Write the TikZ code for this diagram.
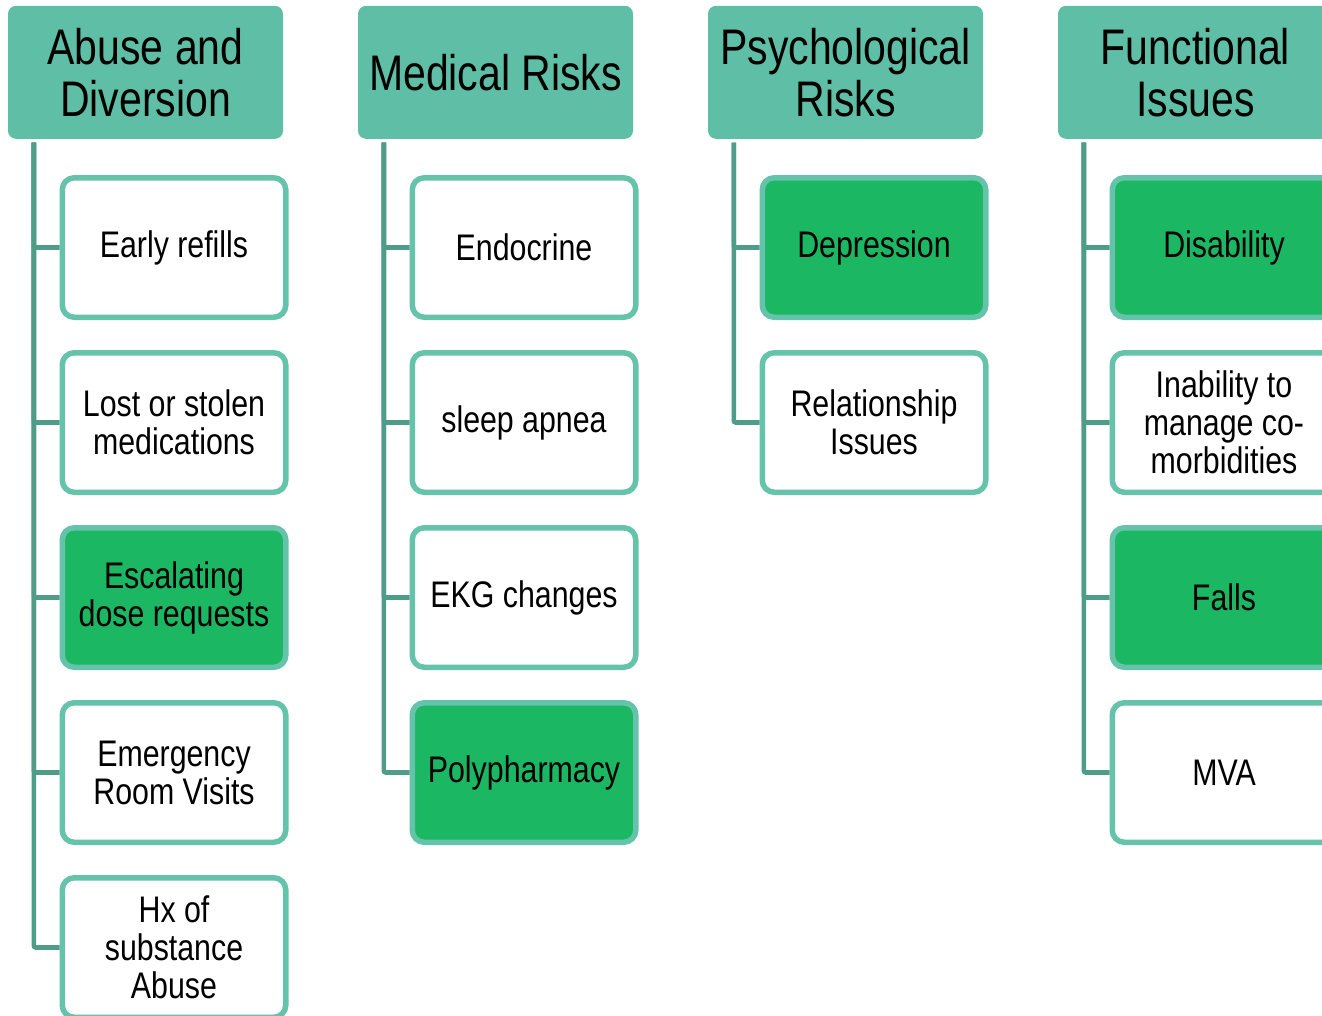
\documentclass[tikz,border=0pt]{standalone}
\usepackage{fontspec}
\setmainfont[FakeStretch=0.82]{Liberation Sans}
\definecolor{headfill}{HTML}{5EBFA6}
\definecolor{spine}{HTML}{4F9C88}
\definecolor{boxline}{HTML}{64C3AA}
\definecolor{hilite}{HTML}{1BB763}
\newcommand\headtype{\fontsize{50}{52}\selectfont\spaceskip 11.4pt plus 3pt minus 2pt\relax}
\newcommand\itemtype{\fontsize{37}{38}\selectfont\spaceskip 8.4pt plus 2pt minus 1.5pt\relax}
\tikzset{
  header/.style={rectangle, rounded corners=8pt, fill=headfill, inner sep=0pt,
    minimum width=275pt, minimum height=133pt, text width=270pt, align=flush center,
    font=\headtype},
  itembox/.style={rectangle, rounded corners=12pt, draw=boxline, line width=5.5pt,
    fill=white, inner sep=0pt, minimum width=223.5pt, minimum height=139.5pt,
    text width=215pt, align=flush center, font=\itemtype},
  hot/.style={fill=hilite},
  conn/.style={draw=spine, line width=4.6pt, rounded corners=2pt}
}
\begin{document}
\begin{tikzpicture}[x=1pt,y=-1pt]
\useasboundingbox (0,0) rectangle (1322,1015);
\clip (0,0) rectangle (1322,1015);

% category headers
\node[header] (h1) at (145.5,72.3) {Abuse and\\Diversion};
\node[header] (h2) at (495.5,72.3) {Medical Risks};
\node[header] (h3) at (845.5,72.3) {Psychological\\Risks};
\node[header] (h4) at (1195.5,72.3) {Functional\\Issues};

% Abuse and Diversion
\node[itembox] (a1) at (174,247.5) {Early refills};
\node[itembox] (a2) at (174,422.5) {Lost or stolen\\medications};
\node[itembox,hot] (a3) at (174,597.5) {Escalating\\dose requests};
\node[itembox] (a4) at (174,772.5) {Emergency\\Room Visits};
\node[itembox] (a5) at (174,947.5) {Hx of\\substance\\Abuse};

% Medical Risks
\node[itembox] (m1) at (524,247.5) {Endocrine};
\node[itembox] (m2) at (524,422.5) {sleep apnea};
\node[itembox] (m3) at (524,597.5) {EKG changes};
\node[itembox,hot] (m4) at (524,772.5) {Polypharmacy};

% Psychological Risks
\node[itembox,hot] (p1) at (874,247.5) {Depression};
\node[itembox] (p2) at (874,422.5) {Relationship\\Issues};

% Functional Issues
\node[itembox,hot] (f1) at (1224,247.5) {Disability};
\node[itembox] (f2) at (1224,422.5) {Inability to\\manage co-\\morbidities};
\node[itembox,hot] (f3) at (1224,597.5) {Falls};
\node[itembox] (f4) at (1224,772.5) {MVA};

% connectors from each header to its items
\foreach \h/\items in {h1/{a1,a2,a3,a4,a5}, h2/{m1,m2,m3,m4}, h3/{p1,p2}, h4/{f1,f2,f3,f4}} {
  \foreach \c in \items {
    \draw[conn] ([xshift=26pt,yshift=-3.5pt]\h.south west) |- (\c.west);
  }
}
\end{tikzpicture}
\end{document}
